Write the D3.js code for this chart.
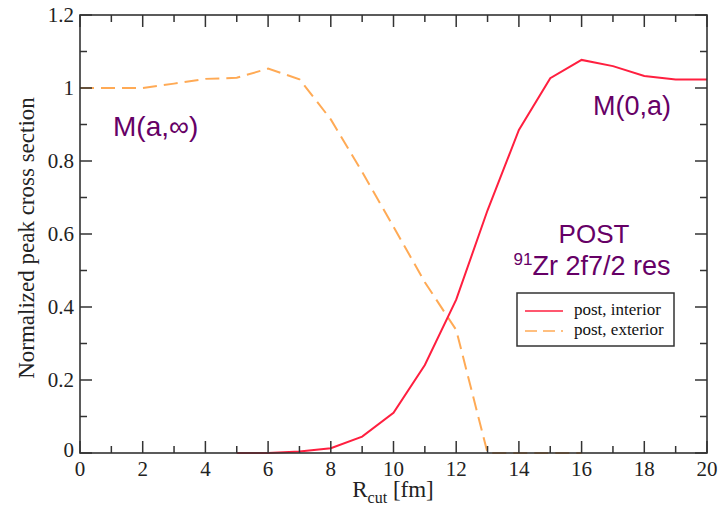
<!DOCTYPE html>
<html><head><meta charset="utf-8">
<script src="https://cdn.jsdelivr.net/npm/d3@7"></script>
<style>body{margin:0;background:#fff}</style>
</head><body>
<svg id="c" width="721" height="505"></svg>
<script>
const interiorX = [5,6,7,8,9,10,11,12,13,14,15,16,17,18,19,20];
const interiorY = [0.0,0.0,0.004,0.013,0.045,0.11,0.241,0.42,0.665,0.885,1.027,1.077,1.06,1.033,1.023,1.023];
const exteriorX = [0,1,2,3,4,5,6,7,8,9,10,11,12,13,14,15,16];
const exteriorY = [1.0,1.0,1.0,1.012,1.025,1.028,1.053,1.024,0.914,0.77,0.62,0.468,0.337,0.0,0.0,0.0,0.0];
const xTicks = [0,2,4,6,8,10,12,14,16,18,20];
const yTicks = [0,0.2,0.4,0.6,0.8,1,1.2];
const yTickLabels = ["0","0.2","0.4","0.6","0.8","1","1.2"];
const seriesNames = ["post, interior","post, exterior"];

const svg = d3.select("#c");
const L=80,R=707,T=15,B=453;
const x = d3.scaleLinear().domain([0,20]).range([L,R]);
const y = d3.scaleLinear().domain([0,1.2]).range([B,T]);
const serif = "'Liberation Serif','Times New Roman',serif";
const sans = "'Liberation Sans',Arial,sans-serif";
const purple = "#660066";
const red = "#ff1f3f", orange = "#ffaa55";

// data lines
const line = d3.line().x(d=>x(d[0])).y(d=>y(d[1]));
svg.append("path").datum(exteriorX.map((v,i)=>[v,exteriorY[i]]))
  .attr("d",line).attr("fill","none").attr("stroke",orange).attr("stroke-width",2)
  .attr("stroke-dasharray","14,7");
svg.append("path").datum(interiorX.map((v,i)=>[v,interiorY[i]]))
  .attr("d",line).attr("fill","none").attr("stroke",red).attr("stroke-width",2);

// axes (inside ticks, all four sides)
const axCol="#333";
const g = svg.append("g");
function ticksX(yPos, dir){
  d3.range(0,21,1).forEach(v=>{
    const len = v%2===0?12:7;
    g.append("line").attr("x1",x(v)).attr("x2",x(v)).attr("y1",yPos).attr("y2",yPos+dir*len)
      .attr("stroke",axCol).attr("stroke-width",1.5);
  });
}
function ticksY(xPos, dir){
  d3.range(0,13,1).forEach(k=>{
    const v=k/10, len = k%2===0?12:7;
    g.append("line").attr("y1",y(v)).attr("y2",y(v)).attr("x1",xPos).attr("x2",xPos+dir*len)
      .attr("stroke",axCol).attr("stroke-width",1.5);
  });
}
ticksX(B,-1); ticksX(T,1); ticksY(L,1); ticksY(R,-1);
g.append("rect").attr("x",L).attr("y",T).attr("width",R-L).attr("height",B-T)
  .attr("fill","none").attr("stroke",axCol).attr("stroke-width",1.6);

// tick labels
xTicks.forEach(v=>{
  svg.append("text").attr("x",x(v)).attr("y",B+23).attr("text-anchor","middle")
    .attr("font-family",serif).attr("font-size",21).attr("fill","#222").text(v);
});
yTicks.forEach((v,i)=>{
  svg.append("text").attr("x",L-6).attr("y",y(v)+(v===0?4:7)).attr("text-anchor","end")
    .attr("font-family",serif).attr("font-size",21).attr("fill","#222").text(yTickLabels[i]);
});

// axis titles
const xt = svg.append("text").attr("x",393).attr("y",497).attr("text-anchor","middle")
  .attr("font-family",serif).attr("font-size",23).attr("fill","#222");
xt.append("tspan").text("R");
xt.append("tspan").attr("font-size",16).attr("dy",6).text("cut");
xt.append("tspan").attr("dy",-6).text(" [fm]");
svg.append("text").attr("transform","translate(34,238) rotate(-90)").attr("text-anchor","middle")
  .attr("font-family",serif).attr("font-size",23).attr("fill","#222").text("Normalized peak cross section");

// annotations
svg.append("text").attr("x",113).attr("y",136).attr("font-family",sans).attr("font-size",28)
  .attr("fill",purple).text("M(a,\u221e)");
svg.append("text").attr("x",593).attr("y",115).attr("font-family",sans).attr("font-size",27)
  .attr("fill",purple).text("M(0,a)");
svg.append("text").attr("x",594).attr("y",243).attr("text-anchor","middle").attr("font-family",sans)
  .attr("font-size",26).attr("fill",purple).text("POST");
const zr = svg.append("text").attr("x",592).attr("y",275).attr("text-anchor","middle").attr("font-family",sans)
  .attr("font-size",27).attr("fill",purple);
zr.append("tspan").attr("font-size",17).attr("dy",-10).text("91");
zr.append("tspan").attr("dy",10).text("Zr 2f7/2 res");

// legend
svg.append("rect").attr("x",517).attr("y",293).attr("width",157).attr("height",53)
  .attr("fill","#fff").attr("stroke","#333").attr("stroke-width",1.5);
[[red,null,311],[orange,"12,6",331]].forEach((s,i)=>{
  const ln = svg.append("line").attr("x1",525).attr("x2",563).attr("y1",s[2]).attr("y2",s[2])
    .attr("stroke",s[0]).attr("stroke-width",1.6);
  if(s[1]) ln.attr("stroke-dasharray",s[1]);
  svg.append("text").attr("x",574).attr("y",s[2]+4).attr("font-family",serif).attr("font-size",17)
    .attr("fill","#111").text(seriesNames[i]);
});
</script>
</body></html>
